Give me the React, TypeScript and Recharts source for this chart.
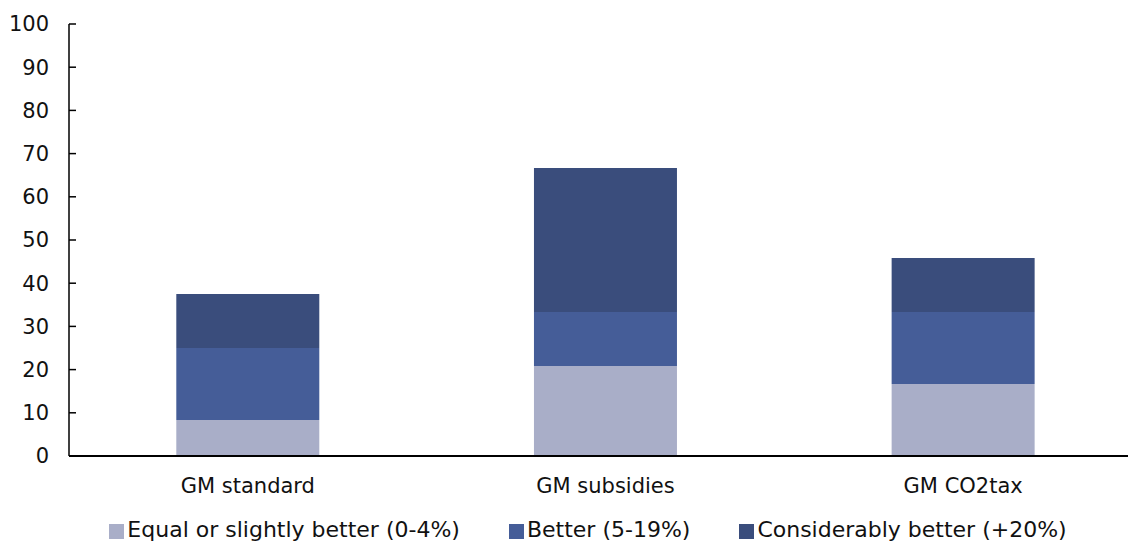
import { BarChart, Bar, XAxis, YAxis, Legend } from "recharts";

const scenarios = ["GM standard", "GM subsidies", "GM CO2tax"];
const equalOrSlightly = [8.33, 20.83, 16.67];
const better = [16.67, 12.5, 16.67];
const considerably = [12.5, 33.33, 12.5];
const yTicks = [0, 10, 20, 30, 40, 50, 60, 70, 80, 90, 100];

const series = [
  { key: "equal", name: "Equal or slightly better (0-4%)", color: "#a9aec8" },
  { key: "better", name: "Better (5-19%)", color: "#455d98" },
  { key: "considerably", name: "Considerably better (+20%)", color: "#3a4d7c" },
];

const data = scenarios.map((name, i) => ({
  name,
  equal: equalOrSlightly[i],
  better: better[i],
  considerably: considerably[i],
}));

const FONT = "'DejaVu Sans', Verdana, sans-serif";

const LegendRow = () => (
  <div
    style={{
      display: "flex",
      justifyContent: "center",
      gap: 49,
      fontFamily: FONT,
      fontSize: 22,
      color: "#111",
      lineHeight: "26px",
      paddingLeft: 48,
    }}
  >
    {series.map((s) => (
      <div key={s.key} style={{ display: "flex", alignItems: "center" }}>
        <span
          style={{
            display: "inline-block",
            width: 15,
            height: 15,
            background: s.color,
            marginRight: 3,
            marginTop: 3,
          }}
        />
        <span>{s.name}</span>
      </div>
    ))}
  </div>
);

export default function App() {
  return (
    <div style={{ position: "absolute", left: 0, top: 0, width: 1128, height: 544, overflow: "hidden", background: "#fff" }}>
      <BarChart
        width={1142}
        height={544}
        data={data}
        barCategoryGap="30%"
        margin={{ top: 24, right: 0, bottom: 28, left: 0 }}
      >
        <XAxis
          dataKey="name"
          axisLine={{ stroke: "#000", strokeWidth: 2 }}
          tickLine={false}
          tickSize={0}
          tickMargin={22}
          height={34}
          tick={{ fill: "#111", fontSize: 21, fontFamily: FONT }}
        />
        <YAxis
          width={69}
          domain={[0, 100]}
          ticks={yTicks}
          interval={0}
          axisLine={{ stroke: "#000", strokeWidth: 1.5 }}
          tickLine={{ stroke: "#000", strokeWidth: 1.5 }}
          tickSize={-7}
          tickMargin={27}
          tick={{ fill: "#111", fontSize: 21, fontFamily: FONT }}
        />
        <Legend
          content={<LegendRow />}
          wrapperStyle={{ position: "absolute", left: 0, top: 517, width: 1128 }}
        />
        {series.map((s) => (
          <Bar
            key={s.key}
            dataKey={s.key}
            name={s.name}
            stackId="a"
            fill={s.color}
            isAnimationActive={false}
          />
        ))}
      </BarChart>
    </div>
  );
}
